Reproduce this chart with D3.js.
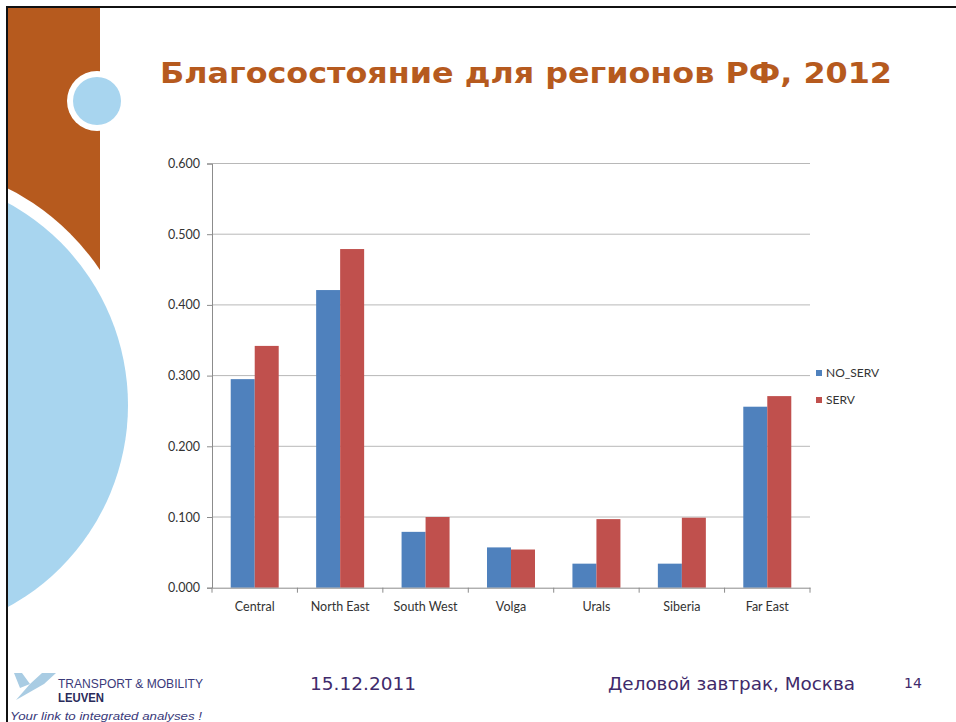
<!DOCTYPE html>
<html><head><meta charset="utf-8">
<script src="https://cdn.jsdelivr.net/npm/d3@7"></script>
<style>html,body{margin:0;padding:0;background:#fff;}svg{display:block;}</style>
</head><body>
<script>
const categories = ["Central","North East","South West","Volga","Urals","Siberia","Far East"];
const seriesNames = ["NO_SERV","SERV"];
const noServ = [0.295,0.421,0.079,0.057,0.034,0.034,0.256];
const serv   = [0.342,0.479,0.100,0.054,0.097,0.099,0.271];
const yTicks = [0,0.1,0.2,0.3,0.4,0.5,0.6];
const colors = ["#4F81BD","#C0504D"];
const title = "Благосостояние для регионов РФ, 2012";

const W=956,H=722;
const svg=d3.select("body").append("svg").attr("width",W).attr("height",H);
svg.append("rect").attr("width",W).attr("height",H).attr("fill","#fff");

// decoration
svg.append("rect").attr("x",8).attr("y",8).attr("width",92).attr("height",275).attr("fill","#B65A1E");
svg.append("circle").attr("cx",-102).attr("cy",405).attr("r",243).attr("fill","#fff");
svg.append("circle").attr("cx",-102).attr("cy",405).attr("r",230).attr("fill","#A8D5EF");
svg.append("circle").attr("cx",97).attr("cy",101).attr("r",30).attr("fill","#fff");
svg.append("circle").attr("cx",97).attr("cy",101).attr("r",24).attr("fill","#A8D5EF");
svg.append("rect").attr("x",0).attr("y",0).attr("width",8).attr("height",H).attr("fill","#fff");
svg.append("line").attr("x1",7).attr("x2",7).attr("y1",6).attr("y2",H).attr("stroke","#111").attr("stroke-width",2);
svg.append("line").attr("x1",6).attr("x2",W).attr("y1",7).attr("y2",7).attr("stroke","#111").attr("stroke-width",2);

// title
svg.append("text").attr("x",160).attr("y",83).text(title)
  .attr("font-family","DejaVu Sans").attr("font-weight","bold").attr("font-size",28)
  .attr("fill","#B65A1E").attr("textLength",732).attr("lengthAdjust","spacingAndGlyphs");

// chart
const m={l:212,r:810,t:163.5,b:587.7};
const x=d3.scaleBand().domain(categories).range([m.l,m.r]).paddingInner(0).paddingOuter(0);
const y=d3.scaleLinear().domain([0,0.6]).range([m.b,m.t]);
const g=svg.append("g");
g.selectAll(".grid").data(yTicks.slice(1)).join("line")
  .attr("x1",m.l).attr("x2",m.r).attr("y1",d=>y(d)).attr("y2",d=>y(d))
  .attr("stroke","#B8B8B8").attr("stroke-width",1);
const yAxis=g.append("g").attr("transform",`translate(${m.l},0)`)
  .call(d3.axisLeft(y).tickValues(yTicks).tickFormat(d3.format(".3f")).tickSize(5).tickPadding(7));
yAxis.select(".domain").attr("stroke","#8C8C8C");
yAxis.selectAll(".tick line").attr("stroke","#8C8C8C");
yAxis.selectAll("text").attr("font-family","Lato").attr("font-size",12.5).attr("fill","#333");

const inner=d3.scaleBand().domain(seriesNames).range([0,x.bandwidth()]).paddingInner(0).paddingOuter(0.78);
const data=[noServ,serv];
categories.forEach((c,i)=>{
  seriesNames.forEach((s,j)=>{
    g.append("rect").attr("x",x(c)+inner(s)).attr("width",inner.bandwidth())
     .attr("y",y(data[j][i])).attr("height",y(0)-y(data[j][i])).attr("fill",colors[j]);
  });
});
const xAxis=g.append("g").attr("transform",`translate(0,${m.b})`)
  .call(d3.axisBottom(x).tickSize(0).tickPadding(14));
xAxis.select(".domain").attr("stroke","#8C8C8C");
xAxis.selectAll("text").attr("font-family","Lato").attr("font-size",12.5).attr("fill","#333");
const bounds=categories.map(c=>x(c)).concat([m.r]);
g.selectAll(".bt").data(bounds).join("line").attr("x1",d=>d).attr("x2",d=>d)
  .attr("y1",m.b).attr("y2",m.b+5).attr("stroke","#8C8C8C");

// legend
const lg=svg.append("g");
seriesNames.forEach((s,j)=>{
  lg.append("rect").attr("x",816).attr("y",370+j*27).attr("width",6).attr("height",6).attr("fill",colors[j]);
  lg.append("text").attr("x",826).attr("y",373+j*27).attr("dy","0.35em").text(s)
    .attr("font-family","Lato").attr("font-size",12).attr("fill","#333");
});

// footer
const ff="DejaVu Sans", fc="#3F2A6B";
svg.append("text").attr("x",310).attr("y",690).text("15.12.2011").attr("font-family",ff).attr("font-size",17.5).attr("fill",fc)
  .attr("textLength",106).attr("lengthAdjust","spacingAndGlyphs");
svg.append("text").attr("x",608).attr("y",690).text("Деловой завтрак, Москва").attr("font-family",ff).attr("font-size",17.5).attr("fill",fc)
  .attr("textLength",247).attr("lengthAdjust","spacingAndGlyphs");
svg.append("text").attr("x",904).attr("y",688).text("14").attr("font-family",ff).attr("font-size",14).attr("fill",fc);

// logo
const logo=svg.append("g");
logo.append("path").attr("d","M16,700 L30,684 L44,684 Z M14,673 L22,673 L30,684 L20,688 Z M30,684 L44,684 L56,673 L42,673 Z").attr("fill","#A9CCE3");
logo.append("text").attr("x",58).attr("y",688).text("TRANSPORT & MOBILITY").attr("font-family","Liberation Sans Narrow, Liberation Sans").attr("font-size",13).attr("fill","#3A3A7A")
  .attr("textLength",145).attr("lengthAdjust","spacingAndGlyphs");
logo.append("text").attr("x",58).attr("y",702).text("LEUVEN").attr("font-family","Liberation Sans").attr("font-weight","bold").attr("font-size",13).attr("fill","#2A2A5A")
  .attr("textLength",46).attr("lengthAdjust","spacingAndGlyphs");
logo.append("text").attr("x",10).attr("y",720).text("Your link to integrated analyses !").attr("font-family","Liberation Sans").attr("font-style","italic").attr("font-size",11).attr("fill","#3A3A7A")
  .attr("textLength",192).attr("lengthAdjust","spacingAndGlyphs");
</script>
</body></html>
